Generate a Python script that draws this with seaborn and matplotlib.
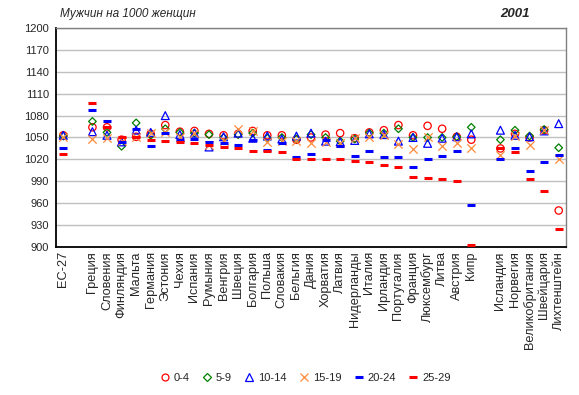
import matplotlib
matplotlib.use("Agg")
import matplotlib.pyplot as plt
import seaborn as sns
import numpy as np
from matplotlib.lines import Line2D

countries = ["ЕС-27",
             "Греция", "Словения", "Финляндия", "Мальта", "Германия", "Эстония", "Чехия",
             "Испания", "Румыния", "Венгрия", "Швеция", "Болгария", "Польша", "Словакия",
             "Бельгия", "Дания", "Хорватия", "Латвия", "Нидерланды", "Италия", "Ирландия",
             "Португалия", "Франция", "Люксембург", "Литва", "Австрия", "Кипр",
             "Исландия", "Норвегия", "Великобритания", "Швейцария", "Лихтенштейн"]

age_0_4 = [1053, 1064, 1064, 1047, 1051, 1055, 1067, 1058, 1059, 1055, 1053, 1055, 1059, 1053, 1053,
           1047, 1050, 1054, 1056, 1049, 1057, 1060, 1067, 1053, 1066, 1062, 1051, 1047,
           1035, 1055, 1050, 1060, 950]
age_5_9 = [1052, 1072, 1057, 1038, 1070, 1053, 1062, 1057, 1056, 1054, 1050, 1054, 1056, 1049, 1050,
           1048, 1054, 1050, 1045, 1048, 1056, 1056, 1062, 1050, 1050, 1050, 1051, 1064,
           1047, 1060, 1052, 1061, 1036]
age_10_14 = [1053, 1058, 1053, 1044, 1060, 1057, 1080, 1054, 1056, 1037, 1051, 1056, 1049, 1052, 1048,
             1052, 1056, 1045, 1044, 1046, 1055, 1054, 1045, 1050, 1042, 1049, 1051, 1055,
             1060, 1053, 1051, 1059, 1069]
age_15_19 = [1051, 1048, 1049, 1045, 1050, 1056, 1057, 1051, 1056, 1040, 1045, 1061, 1059, 1044, 1045,
             1045, 1042, 1044, 1043, 1049, 1050, 1053, 1041, 1034, 1051, 1038, 1042, 1035,
             1026, 1052, 1040, 1060, 1021]
age_20_24 = [1035, 1088, 1072, 1044, 1062, 1038, 1056, 1046, 1048, 1044, 1042, 1040, 1046, 1033, 1042,
             1023, 1028, 1047, 1038, 1024, 1032, 1023, 1023, 1010, 1020, 1024, 1031, 958,
             1020, 1036, 1004, 1016, 1026]
age_25_29 = [1028, 1097, 1065, 1051, 1050, 1046, 1045, 1044, 1043, 1040, 1037, 1036, 1032, 1031, 1030,
             1021, 1021, 1020, 1020, 1018, 1016, 1013, 1009, 996, 994, 993, 990, 903,
             1035, 1030, 993, 977, 925]

y_ticks = [900, 930, 960, 990, 1020, 1050, 1080, 1110, 1140, 1170, 1200]

# slot positions: gap after EU-27 and after Cyprus
idx = np.arange(len(countries))
xpos = idx + (idx >= 1) + (idx >= 28)

sns.set_style("white")
plt.rcParams["font.family"] = ["Liberation Sans", "DejaVu Sans"]

fig = plt.figure(figsize=(5.79, 3.95), dpi=100)
ax = fig.add_axes([56 / 579, 1 - 247 / 395, 510 / 579, 219 / 395])

series = [
    ("0-4", age_0_4, dict(marker="o", s=28, facecolor="none", edgecolor="#ff0000", linewidth=0.9)),
    ("5-9", age_5_9, dict(marker="D", s=15, facecolor="none", edgecolor="#008000", linewidth=0.9)),
    ("10-14", age_10_14, dict(marker="^", s=32, facecolor="none", edgecolor="#0000ff", linewidth=0.9)),
    ("15-19", age_15_19, dict(marker="x", s=36, color="#ff8c3c", linewidth=0.9)),
    ("20-24", age_20_24, dict(marker="_", s=32, color="#0000ff", linewidth=2.2)),
    ("25-29", age_25_29, dict(marker="_", s=32, color="#ff0000", linewidth=2.2)),
]

for name, vals, kw in series:
    sns.scatterplot(x=xpos, y=vals, ax=ax, legend=False, zorder=3, **kw)

ax.set_xlim(-0.5, xpos[-1] + 0.5)
ax.set_ylim(900, 1200)
ax.set_yticks(y_ticks)
ax.set_yticklabels([str(v) for v in y_ticks], fontsize=8)
ax.set_xticks(xpos)
ax.set_xticklabels(countries, rotation=90, fontsize=9.2)
ax.tick_params(axis="both", length=0, pad=3)
ax.tick_params(axis="y", pad=5)
ax.grid(axis="y", color="#c0c0c0", linewidth=1)
ax.set_axisbelow(True)
for side in ["top", "right"]:
    ax.spines[side].set_color("#808080")
    ax.spines[side].set_linewidth(1)
for side in ["left", "bottom"]:
    ax.spines[side].set_color("black")
    ax.spines[side].set_linewidth(1.3)

fig.text(60 / 579, 1 - 14 / 395, "Мужчин на 1000 женщин", fontsize=8.5, style="italic",
         va="center", ha="left")
fig.text(530 / 579, 1 - 14 / 395, "2001", fontsize=9.5, style="italic", weight="bold",
         va="center", ha="right")

handles = [
    Line2D([], [], linestyle="none", marker="o", markersize=5, markerfacecolor="none",
           markeredgecolor="#ff0000", markeredgewidth=0.9),
    Line2D([], [], linestyle="none", marker="D", markersize=3.8, markerfacecolor="none",
           markeredgecolor="#008000", markeredgewidth=0.9),
    Line2D([], [], linestyle="none", marker="^", markersize=5.5, markerfacecolor="none",
           markeredgecolor="#0000ff", markeredgewidth=0.9),
    Line2D([], [], linestyle="none", marker="x", markersize=5.5, color="#ff8c3c",
           markeredgewidth=0.9),
    Line2D([], [], linestyle="none", marker="_", markersize=5.5, color="#0000ff",
           markeredgewidth=2.2),
    Line2D([], [], linestyle="none", marker="_", markersize=5.5, color="#ff0000",
           markeredgewidth=2.2),
]
labels = [s[0] for s in series]
fig.legend(handles, labels, loc="center", bbox_to_anchor=(305 / 579, 1 - 378 / 395),
           ncol=6, frameon=False, fontsize=8, handlelength=1.0, handletextpad=0.3,
           columnspacing=1.05)

fig.savefig("out.png", dpi=100)
